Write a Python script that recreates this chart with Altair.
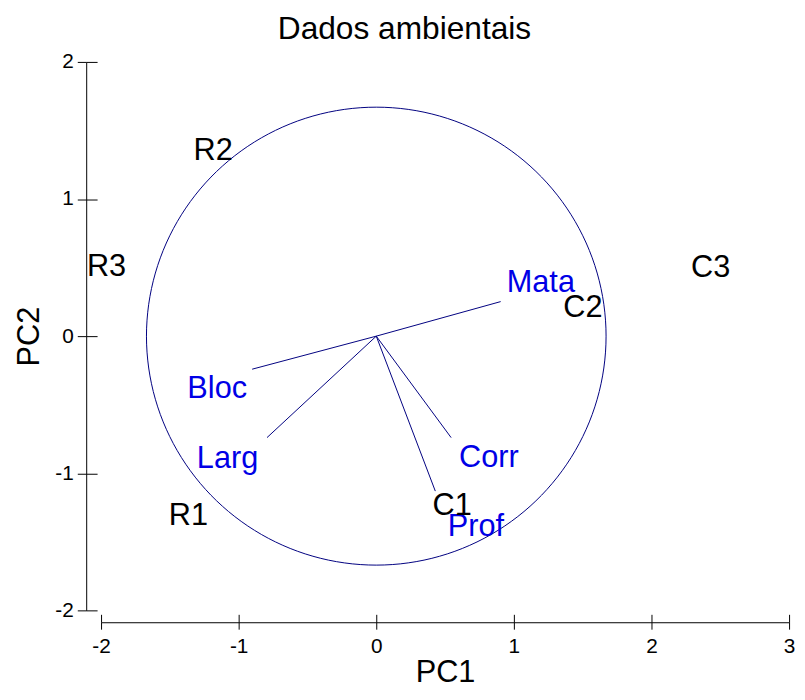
import altair as alt
import pandas as pd

# Observations (sample scores)
obs_names = ["R1", "R2", "R3", "C1", "C2", "C3"]
obs_pc1 = [-1.365, -1.185, -1.96, 0.551, 1.502, 2.43]
obs_pc2 = [-1.300, 1.366, 0.521, -1.224, 0.217, 0.510]

# Variables (loadings vectors) and their label positions
var_names = ["Mata", "Bloc", "Larg", "Corr", "Prof"]
var_pc1 = [0.904, -0.902, -0.794, 0.544, 0.429]
var_pc2 = [0.252, -0.241, -0.740, -0.740, -1.130]
var_label_pc1 = [1.196, -1.156, -1.081, 0.818, 0.724]
var_label_pc2 = [0.405, -0.375, -0.881, -0.874, -1.376]

circle_radius = 1.67
x_ticks = [-2, -1, 0, 1, 2, 3]
y_ticks = [-2, -1, 0, 1, 2]

FONT = "Liberation Sans"
LINE_COLOR = "#000080"
VAR_COLOR = "#0000e6"

obs_df = pd.DataFrame({"name": obs_names, "pc1": obs_pc1, "pc2": obs_pc2})
var_df = pd.DataFrame({
    "name": var_names,
    "ox": [0.0] * len(var_names),
    "oy": [0.0] * len(var_names),
    "pc1": var_pc1,
    "pc2": var_pc2,
    "lx": var_label_pc1,
    "ly": var_label_pc2,
})

xscale = alt.Scale(domain=[-2, 3], nice=False, zero=False)
yscale = alt.Scale(domain=[-2, 2], nice=False, zero=False)

axis_common = dict(grid=False, domainColor="black", tickColor="black", domainWidth=1, tickWidth=1)

x_axis_main = alt.Axis(orient="bottom", offset=12, values=x_ticks, tickSize=7,
                       labelPadding=7, labelFontSize=21, labelFont=FONT, labelColor="black",
                       labelExpr="'' + datum.value", labelFlush=False,
                       title="PC1", titleFont=FONT, titleFontSize=31, titleFontWeight="normal",
                       titleColor="black", titlePadding=1, **axis_common)
x_axis_inner = alt.Axis(orient="bottom", offset=4, values=x_ticks, tickSize=8,
                        labels=False, domain=False, title="", **axis_common)
y_axis_main = alt.Axis(orient="left", offset=15, values=y_ticks, tickSize=9,
                       labelPadding=4, labelFontSize=21, labelFont=FONT, labelColor="black",
                       labelExpr="'' + datum.value", labelFlush=False,
                       title="PC2", titleFont=FONT, titleFontSize=31, titleFontWeight="normal",
                       titleColor="black", titlePadding=10, **axis_common)
y_axis_inner = alt.Axis(orient="left", offset=4, values=y_ticks, tickSize=11,
                        labels=False, domain=False, title="", **axis_common)

circle = alt.Chart(alt.sequence(0, 362, 2, as_="deg")).transform_calculate(
    cx=f"{circle_radius} * cos(datum.deg * PI / 180)",
    cy=f"{circle_radius} * sin(datum.deg * PI / 180)",
).mark_line(color=LINE_COLOR, strokeWidth=1).encode(
    x=alt.X("cx:Q", scale=xscale, axis=x_axis_main),
    y=alt.Y("cy:Q", scale=yscale, axis=y_axis_main),
    order="deg:Q",
)

vectors = alt.Chart(var_df).mark_rule(color=LINE_COLOR, strokeWidth=1).encode(
    x=alt.X("ox:Q", scale=xscale, axis=x_axis_inner),
    y=alt.Y("oy:Q", scale=yscale, axis=y_axis_inner),
    x2="pc1:Q",
    y2="pc2:Q",
)

var_text = alt.Chart(var_df).mark_text(font=FONT, fontSize=31, color=VAR_COLOR,
                                       align="center", baseline="middle", dy=2).encode(
    x=alt.X("lx:Q", scale=xscale, axis=None),
    y=alt.Y("ly:Q", scale=yscale, axis=None),
    text="name:N",
)

obs_text = alt.Chart(obs_df).mark_text(font=FONT, fontSize=31, color="black",
                                       align="center", baseline="middle", dy=2).encode(
    x=alt.X("pc1:Q", scale=xscale, axis=None),
    y=alt.Y("pc2:Q", scale=yscale, axis=None),
    text="name:N",
)

chart = alt.layer(circle, vectors, var_text, obs_text).resolve_scale(
    x="shared", y="shared"
).resolve_axis(
    x="independent", y="independent"
).properties(
    width=695,
    height=554,
    padding={"left": 94, "top": 51, "right": 8, "bottom": 80},
    autosize=alt.AutoSizeParams(type="none"),
    background="white",
    title=alt.Title("Dados ambientais", font=FONT, fontSize=32, fontWeight="normal",
                    color="black", anchor="middle", dx=-41, offset=5),
).configure_view(strokeWidth=0)

chart.save("out.html", embed_options={"renderer": "svg", "actions": False})
